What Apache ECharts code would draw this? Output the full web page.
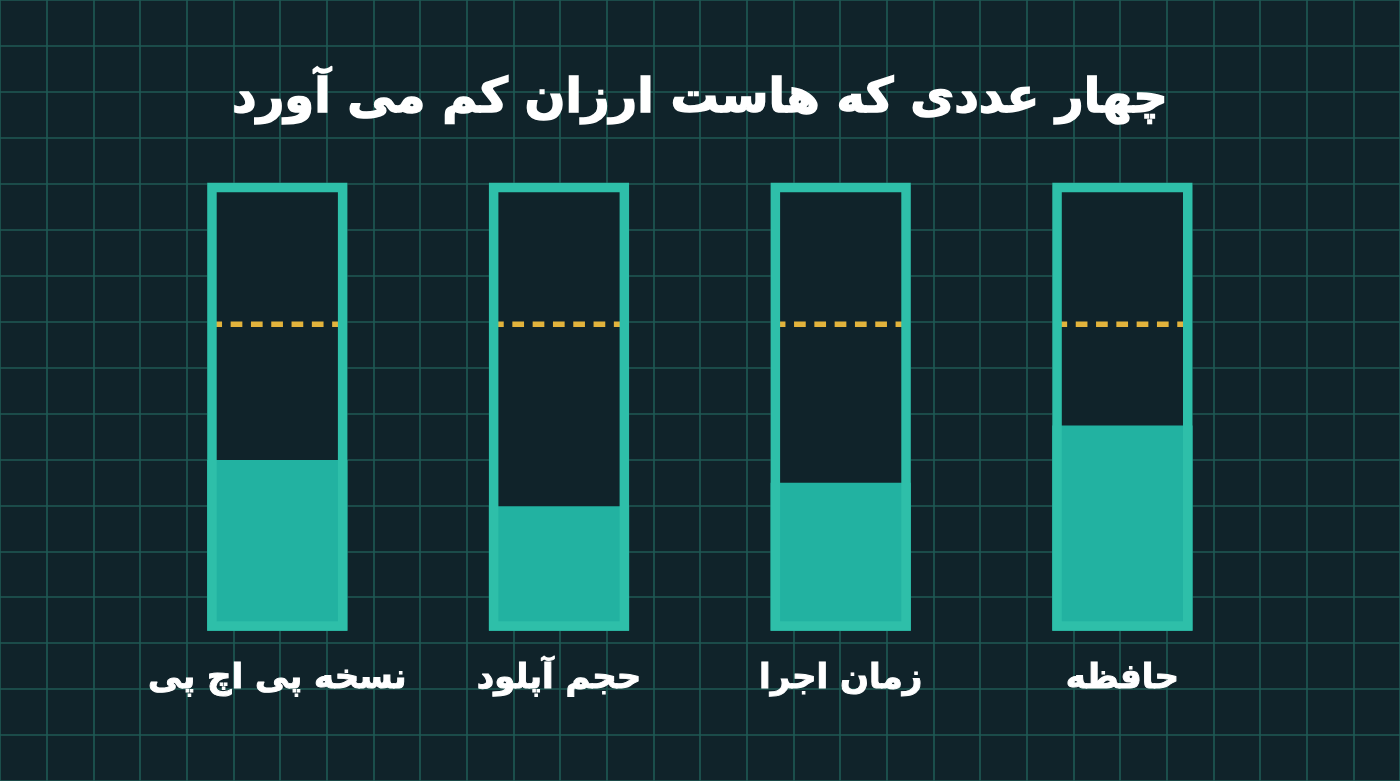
<!DOCTYPE html>
<html>
<head>
<meta charset="utf-8">
<script src="https://cdn.jsdelivr.net/npm/echarts@6/dist/echarts.min.js"></script>
<style>
html,body{margin:0;padding:0;background:#10232a;}
#chart{width:1400px;height:781px;}
</style>
</head>
<body>
<div id="chart"></div>
<script>
const titleText = 'چهار عددی که هاست ارزان کم می آورد';
const categories = ['نسخه پی اچ پی', 'حجم آپلود', 'زمان اجرا', 'حافظه'];
const usedValues = [38.1, 27.8, 33.0, 45.8];
const limitValues = [68.4, 68.4, 68.4, 68.4];
const capacityValues = [100, 100, 100, 100];

const BG = '#10232a';
const GRIDLINE = '#1f5a55';
const BORDER = '#2ebfa9';
const FILL = '#22b2a1';
const DASH = '#e2b33c';
const FONT = 'DejaVu Sans';

const chart = echarts.init(document.getElementById('chart'), null, {renderer: 'canvas'});

const hiddenAxisBits = {
  axisLabel: {show: false}, axisLine: {show: false}, axisTick: {show: false}
};

chart.setOption({
  backgroundColor: BG,
  animation: false,
  title: {
    text: titleText,
    left: 'center',
    top: 71,
    textStyle: {color: '#ffffff', fontSize: 48, fontWeight: 'bold', fontFamily: FONT,
      textBorderColor: '#ffffff', textBorderWidth: 1.5}
  },
  grid: [
    {left: 136.45, right: 136.75, top: 182.7, bottom: 150.3},
    {left: 0, right: 0, top: 0, bottom: 0},
    {left: 0, right: 0, top: -2.95, bottom: -2.3}
  ],
  xAxis: [
    {
      type: 'category', gridIndex: 0, data: categories,
      axisLine: {show: false}, axisTick: {show: false}, splitLine: {show: false},
      axisLabel: {interval: 0, color: '#ffffff', fontSize: 34, fontWeight: 'bold', fontFamily: FONT, margin: 31,
        textBorderColor: '#ffffff', textBorderWidth: 1}
    },
    Object.assign({type: 'value', gridIndex: 1, min: 0, max: 30, interval: 1,
      splitLine: {show: true, lineStyle: {color: GRIDLINE, width: 1.6}}}, hiddenAxisBits),
    {type: 'value', gridIndex: 2, show: false, min: 0, max: 1}
  ],
  yAxis: [
    {type: 'value', gridIndex: 0, min: 0, max: 100, show: false},
    {type: 'value', gridIndex: 1, show: false, min: 0, max: 1},
    Object.assign({type: 'value', gridIndex: 2, min: 0, max: 17, interval: 1,
      splitLine: {show: true, lineStyle: {color: GRIDLINE, width: 1.6}}}, hiddenAxisBits)
  ],
  series: [
    {
      type: 'bar', xAxisIndex: 0, yAxisIndex: 0, data: usedValues,
      barWidth: 140.2, barGap: '-100%', z: 2,
      itemStyle: {color: FILL},
      showBackground: true,
      backgroundStyle: {color: BG, opacity: 1}
    },
    {
      type: 'custom', xAxisIndex: 0, yAxisIndex: 0, z: 3,
      data: limitValues.map((v, i) => [i, v]),
      renderItem: function (params, api) {
        const c = api.coord([api.value(0), api.value(1)]);
        const hw = 65.35;
        return {
          type: 'line',
          shape: {x1: c[0] - hw, y1: c[1], x2: c[0] + hw, y2: c[1]},
          style: {stroke: DASH, lineWidth: 5.5, lineDash: [11.7, 8.6], lineDashOffset: 1.6}
        };
      }
    },
    {
      type: 'bar', xAxisIndex: 0, yAxisIndex: 0, data: capacityValues,
      barWidth: 140.2, barGap: '-100%', z: 4,
      itemStyle: {color: 'rgba(0,0,0,0)', borderColor: BORDER, borderWidth: 9.5}
    }
  ]
});
</script>
</body>
</html>
